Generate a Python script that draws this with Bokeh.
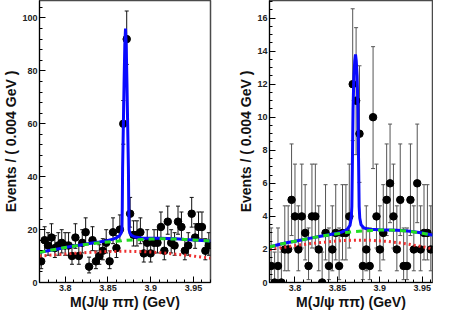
import math
import numpy as np
from bokeh.plotting import figure
from bokeh.layouts import row
from bokeh.models import Range1d, FixedTicker
from bokeh.embed import file_html
from bokeh.resources import INLINE

# ---------------- data ----------------
bin_low = 3.77
bin_width = 0.004
n_bins = 50
bin_centers = [round(bin_low + bin_width * (i + 0.5), 4) for i in range(n_bins)]

left_counts = [8, 16, 14, 17, 13, 14, 15, 14, 14, 10,
               17, 10, 15, 19, 6, 16, 8, 10, 12, 15,
               8, 19, 13, 20, 60, 92, 26, 18, 18, 19,
               11, 15, 11, 15, 15, 21, 12, 23, 15, 14,
               23, 21, 12, 14, 26, 17, 21, 21, 12, 14]

right_counts = [1, 0, 1, 0, 2, 2, 5, 4, 2, 4,
                3, 1, 4, 4, 2, 0, 3, 1, 2, 3,
                1, 3, 3, 4, 12, 11, 9, 1, 2, 1,
                10, 4, 2, 3, 5, 6, 4, 2, 5, 1,
                1, 5, 2, 6, 2, 3, 3, 2, 2, 3]

# fit curves
left_total_x = [3.770, 3.780, 3.790, 3.800, 3.810, 3.820, 3.830, 3.840, 3.850, 3.856,
                3.860, 3.8636, 3.8656, 3.8664, 3.8668, 3.8672, 3.8681, 3.8689, 3.8698, 3.8706,
                3.8714, 3.8723, 3.8731, 3.8740, 3.8744, 3.8748, 3.8756, 3.8776, 3.8816, 3.890,
                3.900, 3.910, 3.920, 3.930, 3.940, 3.950, 3.960, 3.970]
left_total_y = [11.4, 12.0, 12.6, 13.2, 13.8, 14.3, 14.8, 15.3, 15.9, 16.4,
                16.9, 17.7, 18.7, 20.0, 28.0, 43.0, 60.0, 75.0, 90.0, 96.0,
                90.0, 75.0, 60.0, 43.0, 28.0, 20.0, 18.7, 17.8, 17.2, 16.8,
                16.7, 16.7, 16.6, 16.5, 16.3, 16.1, 15.9, 15.7]
left_bkg_x = [3.770, 3.780, 3.790, 3.800, 3.810, 3.820, 3.830, 3.840, 3.850, 3.860,
              3.870, 3.880, 3.890, 3.900, 3.910, 3.920, 3.930, 3.940, 3.950, 3.960, 3.970]
left_bkg_y = [11.4, 12.0, 12.6, 13.2, 13.7, 14.2, 14.6, 15.0, 15.3, 15.6,
              15.9, 16.1, 16.3, 16.4, 16.5, 16.5, 16.4, 16.3, 16.1, 15.9, 15.7]
left_red_x = [3.770, 3.790, 3.810, 3.830, 3.850, 3.870, 3.890, 3.910, 3.930, 3.950, 3.970]
left_red_y = [10.0, 10.5, 11.0, 11.4, 11.7, 11.8, 11.7, 11.3, 10.7, 10.0, 9.2]

right_total_x = [3.770, 3.780, 3.790, 3.800, 3.810, 3.820, 3.830, 3.840, 3.850, 3.855,
                 3.8613, 3.8648, 3.8663, 3.8670, 3.8676, 3.8684, 3.8694, 3.8704, 3.8713,
                 3.8722, 3.8732, 3.8742, 3.8750, 3.8756, 3.8763, 3.8778, 3.8813, 3.8873,
                 3.900, 3.910, 3.920, 3.930, 3.940, 3.950, 3.960, 3.970]
right_total_y = [2.15, 2.28, 2.40, 2.50, 2.60, 2.70, 2.80, 2.89, 2.98, 3.05,
                 3.20, 3.45, 3.90, 4.60, 7.0, 10.5, 12.5, 13.4, 13.8,
                 13.4, 12.5, 10.5, 7.0, 4.6, 3.9, 3.5, 3.3, 3.22,
                 3.19, 3.18, 3.16, 3.13, 3.07, 2.99, 2.89, 2.79]
right_bkg_x = [3.770, 3.780, 3.790, 3.800, 3.810, 3.820, 3.830, 3.840, 3.850, 3.860,
               3.870, 3.880, 3.890, 3.900, 3.910, 3.920, 3.930, 3.940, 3.950, 3.960, 3.970]
right_bkg_y = [2.15, 2.28, 2.40, 2.50, 2.60, 2.70, 2.80, 2.88, 2.95, 3.02,
               3.08, 3.12, 3.15, 3.17, 3.17, 3.15, 3.12, 3.06, 2.98, 2.88, 2.78]
right_red_x = [3.770, 3.790, 3.810, 3.830, 3.850, 3.870, 3.890, 3.910, 3.930, 3.950, 3.970]
right_red_y = [2.00, 2.15, 2.30, 2.42, 2.52, 2.56, 2.55, 2.48, 2.35, 2.17, 1.95]

x_major = [3.8, 3.85, 3.9, 3.95]
x_major_labels = ["3.8", "3.85", "3.9", "3.95"]
left_y_major = [0, 20, 40, 60, 80, 100]
right_y_major = [0, 2, 4, 6, 8, 10, 12, 14, 16]

x_title = "M(J/\u03c8 \u03c0\u03c0) (GeV)"
y_title = "Events / ( 0.004 GeV )"


# ------------- Poisson (Garwood) error bars -------------
def pois_cdf(n, lam):
    term = math.exp(-lam)
    s = term
    for k in range(1, n + 1):
        term *= lam / k
        s += term
    return s


def bisect(fun, target, lo, hi):
    for _ in range(80):
        mid = 0.5 * (lo + hi)
        if fun(mid) > target:
            lo = mid
        else:
            hi = mid
    return 0.5 * (lo + hi)


def garwood(n):
    a = 0.158655
    up = bisect(lambda l: pois_cdf(n, l), a, 0.0, n + 10 * math.sqrt(n + 1) + 10)
    if n == 0:
        lo = 0.0
    else:
        lo = bisect(lambda l: pois_cdf(n - 1, l), 1 - a, 0.0, n + 1)
    return lo, up


FONT = "Liberation Sans"


def make_panel(counts, y_end, y_major, y_minor_step, tot_x, tot_y, bkg_x, bkg_y, red_x, red_y,
               width, min_left, min_right, x_end, err_color):
    p = figure(width=width, height=312, x_range=Range1d(3.77, x_end), y_range=Range1d(0, y_end),
               output_backend="svg", toolbar_location=None,
               min_border_left=min_left, min_border_right=min_right,
               min_border_top=0, min_border_bottom=28)
    p.grid.visible = False
    p.background_fill_color = "white"
    p.border_fill_color = "white"
    p.outline_line_color = "#4a4a4a"
    p.outline_line_width = 1.5

    lo_list, hi_list = [], []
    for n in counts:
        lo, up = garwood(n)
        lo_list.append(lo)
        hi_list.append(up)

    # error bars
    p.segment(x0=bin_centers, y0=lo_list, x1=bin_centers, y1=hi_list,
              line_color=err_color, line_width=1)
    p.scatter(x=bin_centers, y=hi_list, marker="dash", size=4, line_color=err_color, line_width=1)
    p.scatter(x=bin_centers, y=lo_list, marker="dash", size=4, line_color=err_color, line_width=1)
    # data points
    p.scatter(x=bin_centers, y=counts, size=7.5, fill_color="black", line_color="black")

    # fit curves
    p.line(red_x, red_y, line_color="#ee3030", line_width=3, line_dash="2 3")
    p.line(tot_x, tot_y, line_color="#0a0aff", line_width=3)
    p.line(bkg_x, bkg_y, line_color="#22dd22", line_width=3, line_dash="6 5")

    # axes
    p.xaxis.ticker = FixedTicker(ticks=x_major,
                                 minor_ticks=[round(3.77 + 0.01 * k, 2) for k in range(21)])
    p.xaxis.major_label_overrides = dict(zip(x_major, x_major_labels))
    p.yaxis.ticker = FixedTicker(ticks=y_major,
                                 minor_ticks=list(np.arange(0, y_end + 1e-9, y_minor_step)))
    for ax in (p.xaxis[0], p.yaxis[0]):
        ax.major_tick_in = 6
        ax.major_tick_out = 0
        ax.minor_tick_in = 3
        ax.minor_tick_out = 0
        ax.axis_line_color = "black"
        ax.major_tick_line_color = "black"
        ax.minor_tick_line_color = "black"
        ax.major_label_text_font = FONT
        ax.major_label_text_font_style = "bold"
        ax.major_label_text_font_size = "9px"
        ax.major_label_text_color = "#222222"
        ax.axis_label_text_font = FONT
        ax.axis_label_text_font_style = "bold"
        ax.axis_label_text_color = "#111111"
    p.xaxis.axis_label = x_title
    p.xaxis.axis_label_text_font_size = "14px"
    p.xaxis.major_label_standoff = 2
    p.xaxis.axis_label_standoff = 0
    p.yaxis.axis_label = y_title
    p.yaxis.axis_label_text_font_size = "14px"
    p.yaxis.major_label_standoff = 2
    p.yaxis.axis_label_standoff = 0
    return p


left = make_panel(left_counts, 106.6, left_y_major, 4, left_total_x, left_total_y,
                  left_bkg_x, left_bkg_y, left_red_x, left_red_y,
                  width=217, min_left=31, min_right=7, x_end=3.97, err_color="#111111")
right = make_panel(right_counts, 17.06, right_y_major, 0.5, right_total_x, right_total_y,
                   right_bkg_x, right_bkg_y, right_red_x, right_red_y,
                   width=216, min_left=52, min_right=1, x_end=3.962, err_color="#555555")

layout = row(left, right, spacing=0)
open("out.html", "w").write(file_html(layout, INLINE))
